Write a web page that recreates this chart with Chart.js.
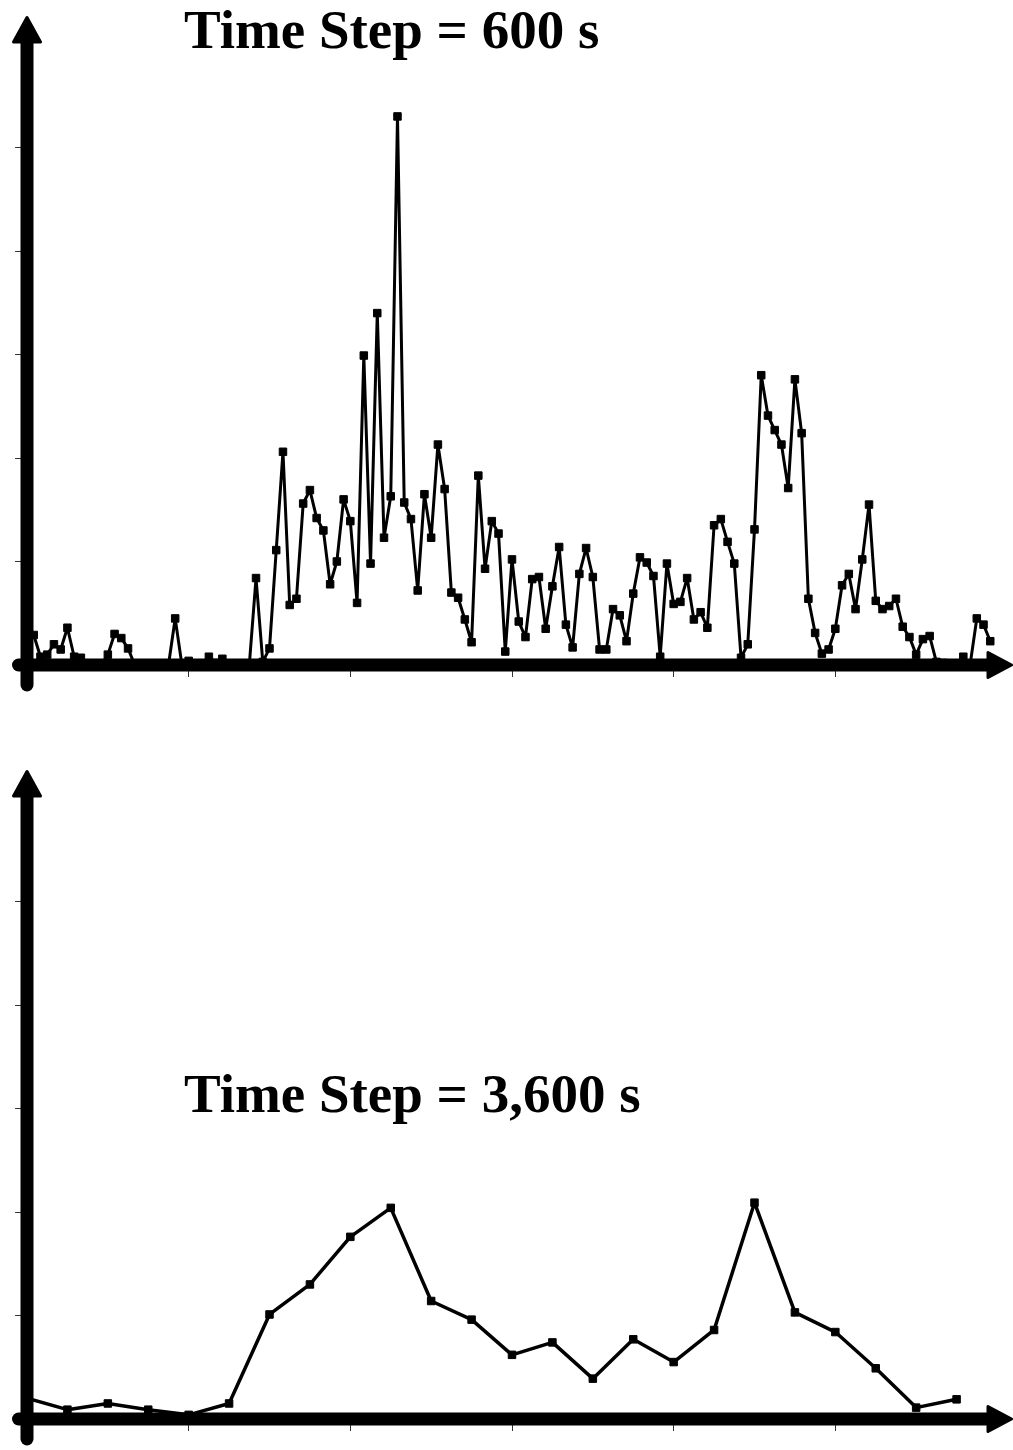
<!DOCTYPE html>
<html>
<head>
<meta charset="utf-8">
<script src="https://cdn.jsdelivr.net/npm/chart.js@4.4.0/dist/chart.umd.min.js"></script>
<style>
html,body{margin:0;padding:0;background:#fff;overflow:hidden;width:1013px;height:1450px;}
.wrap{position:absolute;left:0;width:1013px;height:700px;}
canvas{display:block;}
</style>
</head>
<body>
<div class="wrap" style="top:0"><canvas id="c1" width="1013" height="700"></canvas></div>
<div class="wrap" style="top:754px"><canvas id="c2" width="1013" height="700"></canvas></div>
<script>
// ---- data ----
const titleTop = 'Time Step = 600 s';
const titleBottom = 'Time Step = 3,600 s';
const stepTopSeconds = 600;
const stepBottomSeconds = 3600;
const xTickHours = [0, 4, 8, 12, 16, 20, 24];

const valuesTop = [
  0.30, 0.29, 0.08, 0.10, 0.20, 0.15, 0.36, 0.08, 0.07, 0.00, 0.00, 0.00,
  0.10, 0.30, 0.26, 0.16, 0.00, 0.00, 0.00, 0.00, 0.00, 0.00, 0.45, 0.00,
  0.04, 0.00, 0.00, 0.08, 0.02, 0.06, 0.00, 0.00, 0.00, 0.00, 0.84, 0.03,
  0.16, 1.11, 2.06, 0.58, 0.64, 1.56, 1.69, 1.42, 1.30, 0.78, 1.00, 1.60,
  1.39, 0.60, 2.99, 0.98, 3.40, 1.23, 1.63, 5.30, 1.57, 1.41, 0.72, 1.65,
  1.23, 2.13, 1.70, 0.70, 0.65, 0.44, 0.22, 1.83, 0.93, 1.39, 1.27, 0.13,
  1.02, 0.42, 0.27, 0.83, 0.85, 0.35, 0.76, 1.14, 0.39, 0.17, 0.88, 1.13,
  0.85, 0.15, 0.15, 0.54, 0.48, 0.23, 0.69, 1.04, 0.99, 0.86, 0.08, 0.98,
  0.59, 0.61, 0.84, 0.44, 0.51, 0.36, 1.35, 1.41, 1.19, 0.98, 0.07, 0.20,
  1.31, 2.80, 2.41, 2.27, 2.13, 1.71, 2.76, 2.24, 0.64, 0.31, 0.11, 0.15,
  0.35, 0.77, 0.88, 0.54, 1.02, 1.55, 0.62, 0.54, 0.57, 0.64, 0.37, 0.27,
  0.10, 0.25, 0.28, 0.03, 0.02, 0.00, 0.00, 0.08, 0.00, 0.45, 0.39, 0.23
];

const valuesBottom = [
  0.20, 0.09, 0.15, 0.09, 0.04, 0.15, 1.01, 1.30, 1.76, 2.04, 1.14, 0.96,
  0.62, 0.74, 0.39, 0.77, 0.55, 0.86, 2.09, 1.03, 0.84, 0.49, 0.11, 0.19
];

// time of each sample in hours (sample index times the time step)
const hoursTop = valuesTop.map((_, i) => i * stepTopSeconds / 3600);
const hoursBottom = valuesBottom.map((_, i) => i * stepBottomSeconds / 3600);

// ---- drawing helpers ----
const axesPlugin = {
  id: 'arrowAxes',
  afterDatasetsDraw(chart, args, opts) {
    const ctx = chart.ctx;
    const {left, right, top, bottom} = chart.chartArea;
    const x0 = chart.scales.x.getPixelForValue(0);
    const y0 = chart.scales.y.getPixelForValue(0);
    ctx.save();
    ctx.strokeStyle = '#000';
    ctx.fillStyle = '#000';
    ctx.lineCap = 'round';
    ctx.lineWidth = 13;
    // y axis
    ctx.beginPath();
    ctx.moveTo(x0, y0 + 20);
    ctx.lineTo(x0, top - 3);
    ctx.stroke();
    // x axis
    ctx.beginPath();
    ctx.moveTo(x0 - 8.5, y0);
    ctx.lineTo(right - 8, y0);
    ctx.stroke();
    // arrowheads
    ctx.lineWidth = 3;
    ctx.lineJoin = 'round';
    ctx.beginPath();
    ctx.moveTo(x0, top - 26.5);
    ctx.lineTo(x0 - 13.5, top - 2);
    ctx.lineTo(x0 + 13.5, top - 2);
    ctx.closePath();
    ctx.fill(); ctx.stroke();
    ctx.beginPath();
    ctx.moveTo(right + 14.5, y0);
    ctx.lineTo(right - 9, y0 - 12.5);
    ctx.lineTo(right - 9, y0 + 12.5);
    ctx.closePath();
    ctx.fill(); ctx.stroke();
    // title text
    ctx.font = 'bold 55px "Liberation Serif", "Times New Roman", serif';
    ctx.textBaseline = 'alphabetic';
    ctx.textAlign = 'left';
    ctx.fillText(opts.text, left + opts.dx, top + opts.dy);
    ctx.restore();
  }
};

function tickColor(hidden) {
  return (c) => (c.tick && hidden.includes(c.tick.value)) ? 'rgba(0,0,0,0)' : '#333';
}

function makeChart(id, xs, ys, title, dy, lineW) {
  const data = xs.map((x, i) => ({x: x, y: ys[i]}));
  return new Chart(document.getElementById(id), {
    type: 'line',
    data: {
      datasets: [{
        data: data,
        borderColor: '#000',
        borderWidth: lineW,
        borderJoinStyle: 'round',
        pointStyle: 'rect',
        pointRadius: 5.3,
        pointBackgroundColor: '#000',
        pointBorderColor: '#000',
        pointBorderWidth: 1,
        tension: 0,
        fill: false
      }]
    },
    options: {
      responsive: false,
      devicePixelRatio: 1,
      animation: false,
      events: [],
      layout: {autoPadding: false, padding: {left: 15, right: 16, top: 44, bottom: 23}},
      plugins: {
        legend: {display: false},
        tooltip: {enabled: false},
        title: {display: false},
        arrowAxes: {text: title, dx: 157, dy: dy}
      },
      scales: {
        x: {
          type: 'linear',
          min: xTickHours[0],
          max: xTickHours[xTickHours.length - 1],
          afterBuildTicks: (s) => { s.ticks = xTickHours.map(v => ({value: v})); },
          ticks: {display: false},
          border: {display: false},
          grid: {drawOnChartArea: false, drawTicks: true, tickLength: 12, lineWidth: 1,
                 color: tickColor([0, 24])}
        },
        y: {
          type: 'linear',
          min: 0,
          max: 6,
          ticks: {display: false, stepSize: 1},
          border: {display: false},
          grid: {drawOnChartArea: false, drawTicks: true, tickLength: 12, lineWidth: 1,
                 color: tickColor([0, 6])}
        }
      }
    },
    plugins: [axesPlugin]
  });
}

makeChart('c1', hoursTop, valuesTop, titleTop, 4, 3);
makeChart('c2', hoursBottom, valuesBottom, titleBottom, 314, 3.5);
</script>
</body>
</html>
